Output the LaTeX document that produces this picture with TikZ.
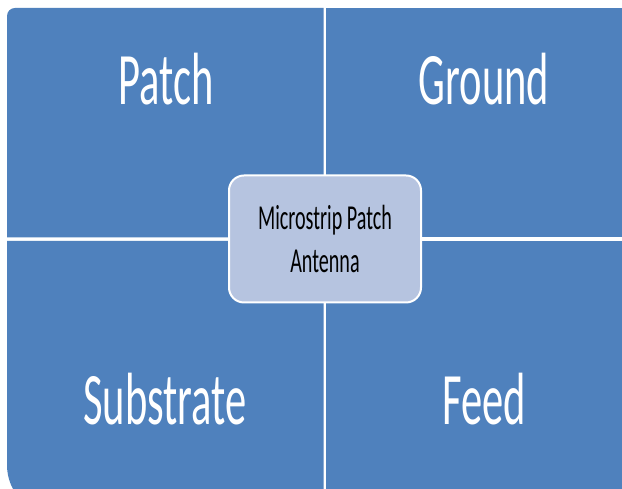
\documentclass[tikz,border=0pt]{standalone}
\usepackage{fontspec}
\setmainfont{Carlito}
\usepackage{graphicx}
\definecolor{quadblue}{RGB}{79,129,189}
\definecolor{hubfill}{RGB}{182,196,224}
\tikzset{
  quad/.style={fill=quadblue},
  biglabel/.style={text=white, anchor=base, inner sep=0pt,
    font=\fontsize{74}{80}\selectfont},
  hub/.style={fill=hubfill, draw=white, line width=2pt, rounded corners=15pt,
    minimum width=192pt, minimum height=127pt, inner sep=0pt, align=center,
    font=\fontsize{35}{43}\selectfont}
}
\newcommand{\narrow}[1]{\scalebox{0.575}[1]{#1}}
\begin{document}
\begin{tikzpicture}[x=1pt,y=1pt]
  \useasboundingbox (0,0) rectangle (622,489);
  \fill[white] (0,0) rectangle (622,489);
  \clip (0,0) rectangle (622,489);
  % four quadrants of the matrix
  \fill[quad] (323.5,251.5) -- (7,251.5) -- (7,473)
      arc[start angle=180, end angle=90, radius=8] -- (323.5,481) -- cycle;
  \fill[quad] (325.5,251.5) rectangle (640,481);
  \fill[quad] (323.5,248) -- (7,248) -- (7,24)
      arc[start angle=180, end angle=270, radius=51] -- (323.5,-27) -- cycle;
  \fill[quad] (325.5,248) rectangle (640,-27);
  % quadrant labels
  \node[biglabel] (patch) at (166,384) {\narrow{Patch}};
  \node[biglabel] (ground) at (484,384) {\narrow{Ground}};
  \node[biglabel] (substrate) at (165,64) {\narrow{Substrate}};
  \node[biglabel] (feed) at (484,64) {\narrow{Feed}};
  % central box
  \node[hub] (hub) at (325,250) {\narrow{Microstrip Patch}\\\narrow{Antenna}};
\end{tikzpicture}
\end{document}
